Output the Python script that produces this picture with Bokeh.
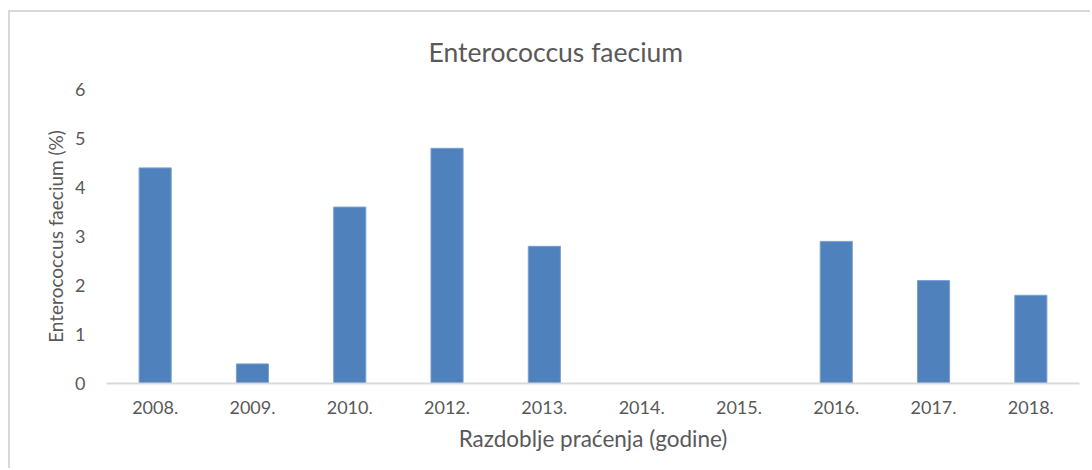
from bokeh.plotting import figure
from bokeh.models import Range1d, FactorRange, ColumnDataSource, SingleIntervalTicker
from bokeh.embed import file_html
from bokeh.resources import INLINE

title_text = "Enterococcus faecium"
years = ["2008.", "2009.", "2010.", "2012.", "2013.", "2014.", "2015.", "2016.", "2017.", "2018."]
values = [4.4, 0.4, 3.6, 4.8, 2.8, 0.0, 0.0, 2.9, 2.1, 1.8]

FONT = "Lato"
TXT = "#595959"

p = figure(
    x_range=FactorRange(*years),
    y_range=Range1d(0, 6),
    width=1082, height=458,
    output_backend="svg", toolbar_location=None,
    min_border_left=96, min_border_right=13, min_border_top=75, min_border_bottom=87,
    title=title_text,
)
p.styles = {"margin-left": "8px", "margin-top": "10px",
            "border-left": "2px solid #d9d9d9", "border-top": "2px solid #d9d9d9",
            "border-right": "none", "border-bottom": "none"}

src = ColumnDataSource(dict(x=years, top=values))
p.vbar(x="x", top="top", width=0.33, source=src, fill_color="#4F81BD", line_color="#7a9fd0", line_width=1)

p.title.align = "left"
p.title.offset = 322
p.title.text_font = FONT
p.title.text_font_size = "26.5px"
p.title.text_font_style = "normal"
p.title.text_color = TXT
p.title.standoff = 43

p.outline_line_color = None
p.grid.visible = False
p.background_fill_color = "white"
p.border_fill_color = "white"

xa = p.xaxis[0]
xa.axis_label = "Razdoblje praćenja (godine)"
xa.axis_line_color = "#d9d9d9"
xa.axis_line_width = 2
xa.major_tick_line_color = None
xa.minor_tick_line_color = None
xa.major_label_standoff = 11
xa.major_label_text_font = FONT
xa.major_label_text_font_size = "18px"
xa.major_label_text_color = TXT
xa.axis_label_text_font = FONT
xa.axis_label_text_font_size = "22.5px"
xa.axis_label_text_font_style = "normal"
xa.axis_label_text_color = TXT
xa.axis_label_standoff = 8

ya = p.yaxis[0]
ya.ticker = SingleIntervalTicker(interval=1)
ya.axis_label = "Enterococcus faecium (%)"
ya.axis_line_color = None
ya.major_tick_line_color = None
ya.minor_tick_line_color = None
ya.major_label_standoff = 15
ya.major_label_text_font = FONT
ya.major_label_text_font_size = "18px"
ya.major_label_text_color = TXT
ya.axis_label_text_font = FONT
ya.axis_label_text_font_size = "19px"
ya.axis_label_text_font_style = "normal"
ya.axis_label_text_color = TXT
ya.axis_label_standoff = 5

open("out.html", "w").write(file_html(p, INLINE))
